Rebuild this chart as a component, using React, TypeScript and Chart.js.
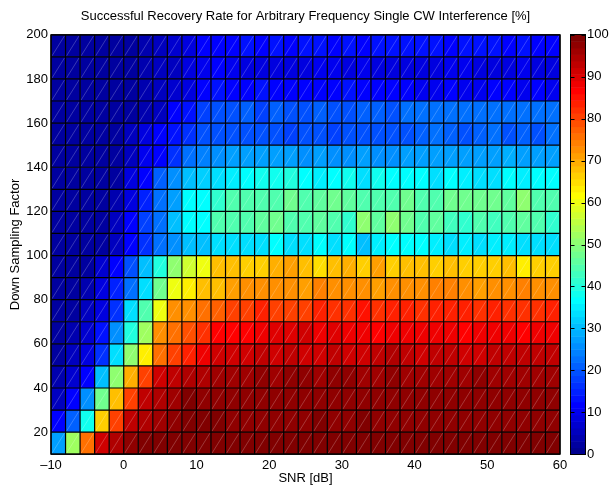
import React, { useEffect, useRef } from "react";
import { Chart, registerables } from "chart.js";

Chart.register(...registerables);

// Bin starts (SNR columns are 2 dB wide, DSF rows are 10 wide)
const snrStarts = [-10, -8, -6, -4, -2, 0, 2, 4, 6, 8, 10, 12, 14, 16, 18, 20, 22, 24, 26, 28, 30, 32, 34, 36, 38, 40, 42, 44, 46, 48, 50, 52, 54, 56, 58];
const snrWidth = 2;
const dsfStarts = [10, 20, 30, 40, 50, 60, 70, 80, 90, 100, 110, 120, 130, 140, 150, 160, 170, 180, 190];
const dsfHeight = 10;

const xTickValues = [-10, 0, 10, 20, 30, 40, 50, 60];
const yTickValues = [20, 40, 60, 80, 100, 120, 140, 160, 180, 200];
const colorTickValues = [0, 10, 20, 30, 40, 50, 60, 70, 80, 90, 100];

// Successful recovery rate [%], one array per down-sampling row
const rateDsf10 = [28, 53, 76, 91, 95, 97, 99, 99, 99, 99, 99, 99, 99, 99, 99, 99, 99, 99, 99, 99, 99, 99, 99, 99, 99, 99, 99, 99, 99, 99, 99, 99, 99, 99, 99];
const rateDsf20 = [11, 21, 38, 66, 81, 93, 95, 96, 97, 99, 99, 99, 98, 98, 98, 98, 98, 98, 99, 98, 98, 99, 98, 98, 98, 98, 98, 98, 98, 98, 98, 98, 98, 98, 98];
const rateDsf30 = [6, 11, 26, 48, 68, 81, 93, 95, 96, 99, 97, 97, 97, 97, 98, 97, 97, 98, 98, 97, 98, 97, 98, 97, 97, 97, 97, 97, 98, 97, 97, 97, 97, 97, 97];
const rateDsf40 = [4, 7, 12, 30, 51, 70, 80, 91, 93, 95, 95, 96, 96, 96, 97, 96, 97, 97, 96, 97, 97, 96, 96, 97, 96, 96, 96, 96, 96, 97, 96, 96, 96, 96, 96];
const rateDsf50 = [3, 6, 9, 17, 34, 50, 63, 75, 81, 84, 89, 91, 91, 92, 93, 92, 93, 92, 91, 93, 92, 91, 93, 94, 93, 92, 93, 93, 92, 92, 93, 93, 93, 93, 93];
const rateDsf60 = [3, 4, 7, 13, 25, 40, 53, 72, 75, 79, 82, 87, 87, 86, 88, 90, 90, 91, 88, 90, 89, 88, 87, 88, 89, 89, 88, 88, 87, 89, 89, 88, 87, 89, 89];
const rateDsf70 = [3, 3, 6, 9, 17, 33, 44, 60, 72, 73, 75, 78, 80, 81, 84, 81, 81, 80, 84, 82, 82, 85, 82, 84, 83, 82, 83, 83, 83, 82, 84, 82, 82, 82, 83];
const rateDsf80 = [2, 3, 4, 8, 15, 22, 34, 47, 60, 64, 68, 68, 71, 72, 72, 72, 73, 71, 74, 73, 72, 73, 71, 73, 73, 73, 74, 74, 73, 71, 73, 73, 74, 73, 73];
const rateDsf90 = [2, 2, 3, 7, 12, 20, 31, 40, 51, 57, 60, 68, 68, 66, 66, 70, 71, 68, 65, 68, 70, 66, 71, 66, 68, 68, 67, 68, 67, 67, 66, 68, 63, 66, 67];
const rateDsf100 = [2, 2, 2, 3, 5, 11, 16, 22, 25, 30, 31, 34, 34, 34, 33, 37, 34, 33, 37, 34, 37, 31, 35, 36, 37, 36, 35, 34, 35, 34, 35, 35, 34, 33, 34];
const rateDsf110 = [2, 2, 2, 3, 6, 12, 18, 23, 31, 37, 37, 44, 45, 45, 46, 47, 45, 44, 46, 45, 42, 50, 46, 50, 47, 45, 46, 43, 42, 44, 43, 44, 46, 44, 41];
const rateDsf120 = [2, 2, 2, 3, 4, 9, 15, 22, 28, 36, 37, 42, 45, 45, 45, 44, 48, 45, 46, 47, 46, 45, 45, 44, 48, 45, 45, 47, 48, 47, 48, 46, 50, 45, 45];
const rateDsf130 = [2, 2, 2, 2, 3, 9, 12, 21, 25, 31, 32, 34, 35, 37, 38, 38, 40, 36, 35, 36, 39, 34, 38, 36, 37, 37, 34, 36, 35, 34, 33, 37, 35, 36, 36];
const rateDsf140 = [2, 2, 2, 2, 3, 5, 10, 12, 17, 22, 24, 25, 27, 27, 28, 27, 27, 26, 27, 26, 26, 27, 26, 26, 28, 28, 27, 28, 28, 28, 28, 29, 28, 28, 28];
const rateDsf150 = [2, 2, 2, 2, 3, 5, 8, 12, 14, 17, 20, 20, 19, 20, 19, 20, 18, 20, 19, 18, 20, 20, 19, 19, 20, 21, 22, 21, 20, 21, 22, 20, 21, 20, 22];
const rateDsf160 = [2, 2, 2, 2, 3, 3, 4, 6, 12, 14, 18, 20, 20, 21, 18, 21, 20, 19, 21, 20, 20, 21, 21, 20, 23, 22, 23, 22, 22, 23, 22, 22, 23, 22, 22];
const rateDsf170 = [2, 2, 2, 2, 3, 3, 4, 5, 7, 9, 12, 13, 12, 12, 13, 12, 11, 12, 12, 12, 13, 11, 12, 11, 11, 10, 10, 11, 10, 10, 11, 11, 10, 11, 10];
const rateDsf180 = [2, 2, 2, 2, 3, 3, 4, 5, 6, 8, 10, 11, 10, 9, 8, 9, 9, 9, 10, 10, 9, 10, 8, 9, 9, 9, 9, 10, 10, 9, 8, 9, 10, 9, 9];
const rateDsf190 = [2, 2, 2, 2, 3, 3, 4, 5, 7, 9, 11, 12, 12, 13, 11, 13, 12, 14, 13, 12, 13, 12, 13, 14, 14, 13, 13, 12, 14, 13, 14, 12, 13, 11, 12];

const rateRows = [
  rateDsf10, rateDsf20, rateDsf30, rateDsf40, rateDsf50, rateDsf60, rateDsf70,
  rateDsf80, rateDsf90, rateDsf100, rateDsf110, rateDsf120, rateDsf130, rateDsf140,
  rateDsf150, rateDsf160, rateDsf170, rateDsf180, rateDsf190,
];

const FONT = "'Liberation Sans', Arial, Helvetica, sans-serif";

// MATLAB jet(64)
function jet64(k: number): string {
  const uAt = (idx: number) => {
    if (idx < 1 || idx > 47) return 0;
    if (idx <= 16) return idx / 16;
    if (idx <= 31) return 1;
    return (48 - idx) / 16;
  };
  const r = uAt(k - 23);
  const g = uAt(k - 7);
  const b = uAt(k + 9);
  return `rgb(${Math.round(r * 255)},${Math.round(g * 255)},${Math.round(b * 255)})`;
}
function colorFor(v: number): string {
  let k = Math.floor((v / 100) * 64);
  if (k > 63) k = 63;
  if (k < 0) k = 0;
  return jet64(k);
}

const heatmapPlugin = {
  id: "heatmapCells",
  beforeDatasetsDraw(chart: any) {
    const { ctx, chartArea, scales } = chart;
    const xs = scales.x;
    const ys = scales.y;
    const cb = scales.cb;
    const pts = chart.data.datasets[0].data as any[];
    ctx.save();
    // cells
    for (const p of pts) {
      const x0 = xs.getPixelForValue(p.x - snrWidth / 2);
      const x1 = xs.getPixelForValue(p.x + snrWidth / 2);
      const y0 = ys.getPixelForValue(p.y - dsfHeight / 2);
      const y1 = ys.getPixelForValue(p.y + dsfHeight / 2);
      ctx.fillStyle = colorFor(p.v);
      ctx.fillRect(x0, y1, x1 - x0, y0 - y1);
    }
    // faint diagonal lines (triangle seams)
    ctx.strokeStyle = "rgba(255,255,255,0.28)";
    ctx.lineWidth = 0.8;
    ctx.beginPath();
    for (const p of pts) {
      const x0 = xs.getPixelForValue(p.x - snrWidth / 2);
      const x1 = xs.getPixelForValue(p.x + snrWidth / 2);
      const y0 = ys.getPixelForValue(p.y - dsfHeight / 2);
      const y1 = ys.getPixelForValue(p.y + dsfHeight / 2);
      ctx.moveTo(x0 + 1, y0 - 1);
      ctx.lineTo(x1 - 1, y1 + 1);
    }
    ctx.stroke();
    // black cell edges
    ctx.strokeStyle = "#000";
    ctx.lineWidth = 1.2;
    ctx.beginPath();
    const xEdges = [...snrStarts, snrStarts[snrStarts.length - 1] + snrWidth];
    const yEdges = [...dsfStarts, dsfStarts[dsfStarts.length - 1] + dsfHeight];
    for (const e of xEdges) {
      const px = xs.getPixelForValue(e);
      ctx.moveTo(px, chartArea.top);
      ctx.lineTo(px, chartArea.bottom);
    }
    for (const e of yEdges) {
      const py = ys.getPixelForValue(e);
      ctx.moveTo(chartArea.left, py);
      ctx.lineTo(chartArea.right, py);
    }
    ctx.stroke();
    // colorbar
    const cbLeft = chartArea.right + 11;
    const cbRight = chartArea.right + 25;
    for (let k = 0; k < 64; k++) {
      const v0 = (k * 100) / 64;
      const v1 = ((k + 1) * 100) / 64;
      const p0 = cb.getPixelForValue(v0);
      const p1 = cb.getPixelForValue(v1);
      ctx.fillStyle = jet64(k);
      ctx.fillRect(cbLeft, p1, cbRight - cbLeft, p0 - p1 + 0.5);
    }
    ctx.strokeStyle = "#000";
    ctx.lineWidth = 1;
    ctx.strokeRect(Math.round(cbLeft) - 0.5, Math.round(cb.top) - 0.5, Math.round(cbRight - cbLeft) + 1, Math.round(cb.bottom - cb.top) + 1);
    ctx.beginPath();
    for (const t of colorTickValues) {
      const py = Math.round(cb.getPixelForValue(t)) + 0.5;
      ctx.moveTo(cbLeft, py);
      ctx.lineTo(cbLeft + 3.5, py);
      ctx.moveTo(cbRight, py);
      ctx.lineTo(cbRight - 3.5, py);
    }
    ctx.stroke();
    ctx.restore();
  },
  afterDatasetsDraw(chart: any) {
    const { ctx, chartArea } = chart;
    ctx.save();
    ctx.strokeStyle = "#000";
    ctx.lineWidth = 1.2;
    ctx.strokeRect(chartArea.left, chartArea.top, chartArea.right - chartArea.left, chartArea.bottom - chartArea.top);
    ctx.restore();
  },
};

export default function App() {
  const canvasRef = useRef<HTMLCanvasElement | null>(null);

  useEffect(() => {
    document.body.style.margin = "0";
    const canvas = canvasRef.current;
    if (!canvas) return;
    const points: { x: number; y: number; v: number }[] = [];
    dsfStarts.forEach((d, ri) => {
      snrStarts.forEach((s, ci) => {
        points.push({ x: s + snrWidth / 2, y: d + dsfHeight / 2, v: rateRows[ri][ci] });
      });
    });

    const tickFont = { family: FONT, size: 13 };
    const chart = new Chart(canvas, {
      type: "scatter",
      data: {
        datasets: [
          {
            data: points,
            pointRadius: 0,
            pointHoverRadius: 0,
            showLine: false,
          } as any,
        ],
      },
      options: {
        responsive: false,
        animation: false,
        events: [],
        layout: { padding: 0 },
        plugins: {
          legend: { display: false },
          tooltip: { enabled: false },
          title: {
            display: true,
            text: "Successful Recovery Rate for Arbitrary Frequency Single CW Interference [%]",
            color: "#000",
            font: { family: FONT, size: 13, weight: "normal" as any },
            padding: { top: 7, bottom: 10.4 },
          },
        },
        scales: {
          x: {
            type: "linear",
            position: "bottom",
            min: -10,
            max: 60,
            afterBuildTicks: (s: any) => {
              s.ticks = xTickValues.map((v) => ({ value: v }));
            },
            afterFit: (s: any) => {
              s.height = 32;
            },
            grid: { display: false, drawTicks: false },
            border: { display: false },
            ticks: {
              color: "#000",
              font: tickFont,
              padding: 3,
              maxRotation: 0,
              autoSkip: false,
              callback: (v: any) => (Number(v) < 0 ? "\u2013" + Math.abs(Number(v)) : String(v)),
            },
            title: {
              display: true,
              text: "SNR [dB]",
              color: "#000",
              font: tickFont,
              padding: { top: 0, bottom: 0 },
            },
          },
          y: {
            type: "linear",
            position: "left",
            min: 10,
            max: 200,
            afterBuildTicks: (s: any) => {
              s.ticks = yTickValues.map((v) => ({ value: v }));
            },
            afterFit: (s: any) => {
              s.width = 51;
            },
            grid: { display: false, drawTicks: false },
            border: { display: false },
            ticks: { color: "#000", font: tickFont, padding: 3, autoSkip: false },
            title: {
              display: true,
              text: "Down Sampling Factor",
              color: "#000",
              font: tickFont,
              padding: { top: 8, bottom: 0 },
            },
          },
          cb: {
            type: "linear",
            position: "right",
            min: 0,
            max: 100,
            afterBuildTicks: (s: any) => {
              s.ticks = colorTickValues.map((v) => ({ value: v }));
            },
            afterFit: (s: any) => {
              s.width = 51;
            },
            grid: { display: false, drawTicks: false },
            border: { display: false },
            ticks: { color: "#000", font: tickFont, padding: 27, autoSkip: false },
          },
        } as any,
      },
      plugins: [heatmapPlugin],
    });
    return () => chart.destroy();
  }, []);

  return (
    <div style={{ position: "absolute", left: 0, top: 0, width: 611, height: 489, background: "#fff" }}>
      <canvas ref={canvasRef} width={611} height={489} style={{ display: "block" }} />
    </div>
  );
}
